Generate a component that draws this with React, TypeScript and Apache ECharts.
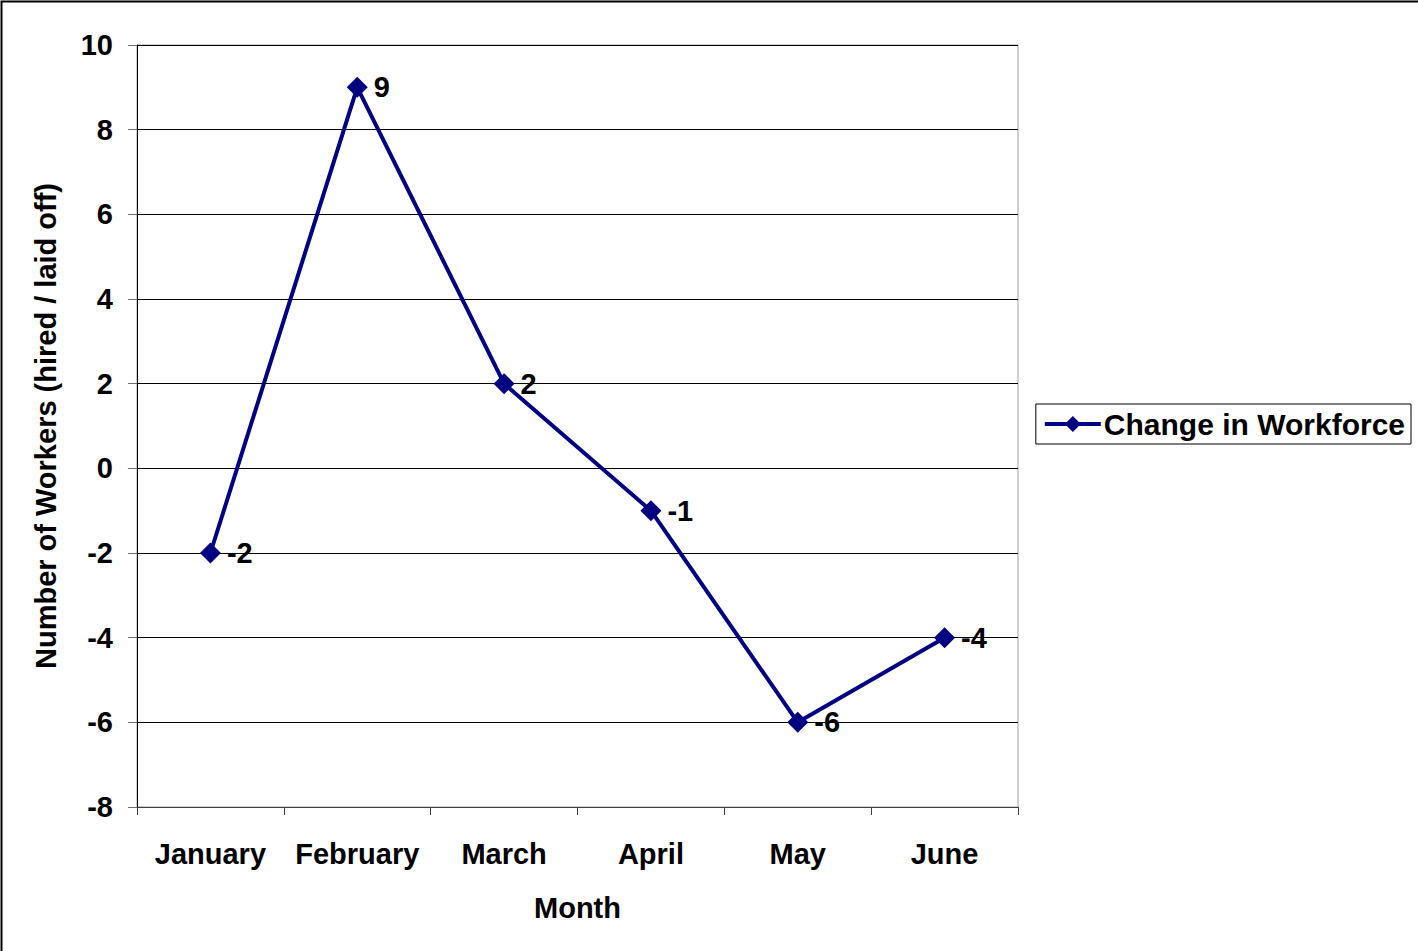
import React, { useEffect, useRef } from "react";
import * as echarts from "echarts";

const months = ["January", "February", "March", "April", "May", "June"];
const workforceChange = [-2, 9, 2, -1, -6, -4];
const seriesName = "Change in Workforce";
const yMin = -8;
const yMax = 10;
const yStep = 2;

export default function App() {
  const ref = useRef<HTMLDivElement>(null);
  useEffect(() => {
    const chart = echarts.init(ref.current!, null, { renderer: "svg" });
    const font = "'Liberation Sans', Arial, sans-serif";
    const fs = 29;
    chart.setOption({
      animation: false,
      backgroundColor: "#ffffff",
      textStyle: { fontFamily: font },
      grid: { left: 137, right: 400, top: 45, bottom: 144, show: true, borderColor: "#a0a0a0", borderWidth: 1, backgroundColor: "transparent" },
      legend: {
        show: true,
        data: [seriesName],
        right: 7,
        top: 404,
        orient: "vertical",
        padding: [5, 6, 5, 7],
        borderColor: "#000000",
        borderWidth: 1,
        itemWidth: 56,
        itemHeight: 20,
        itemGap: 0,
        lineStyle: { width: 4 },
        textStyle: { fontSize: 30, fontWeight: "bold", color: "#000", fontFamily: font, padding: [0, 0, 0, -2] },
      },
      xAxis: {
        type: "category",
        data: months,
        boundaryGap: true,
        name: "Month",
        nameLocation: "middle",
        nameGap: 86,
        nameTextStyle: { fontSize: fs, fontWeight: "bold", color: "#000", fontFamily: font },
        axisLine: { onZero: false, lineStyle: { color: "#404040", width: 1 } },
        axisTick: { show: true, interval: 0, length: 8, inside: false, lineStyle: { color: "#404040" } },
        axisLabel: { interval: 0, fontSize: fs, fontWeight: "bold", color: "#000", margin: 32, fontFamily: font },
        splitLine: { show: false },
      },
      yAxis: {
        type: "value",
        min: yMin,
        max: yMax,
        interval: yStep,
        name: "Number of Workers (hired / laid off)",
        nameLocation: "middle",
        nameGap: 77,
        nameRotate: 90,
        nameTextStyle: { fontSize: fs, fontWeight: "bold", color: "#000", fontFamily: font },
        axisLine: { show: true, lineStyle: { color: "#000", width: 1 } },
        axisTick: { show: true, length: 9, lineStyle: { color: "#707070" } },
        axisLabel: { fontSize: fs, fontWeight: "bold", color: "#000", margin: 24, fontFamily: font },
        splitLine: { show: true, lineStyle: { color: "#000", width: 1 } },
      },
      series: [
        {
          name: seriesName,
          type: "line",
          data: workforceChange,
          color: "#000080",
          lineStyle: { width: 4, color: "#000080" },
          symbol: "diamond",
          symbolSize: 21,
          itemStyle: { color: "#000080" },
          label: {
            show: true,
            position: "right",
            distance: 6,
            fontSize: fs,
            fontWeight: "bold",
            color: "#000",
            fontFamily: font,
          },
        },
      ],
      graphic: [
        {
          type: "rect",
          shape: { x: 1.5, y: 1.5, width: 1430, height: 960 },
          style: { fill: "none", stroke: "#000", lineWidth: 2 },
          silent: true,
        },
      ],
    });
    return () => chart.dispose();
  }, []);
  return <div ref={ref} style={{ position: "fixed", left: 0, top: 0, width: 1418, height: 951 }} />;
}
